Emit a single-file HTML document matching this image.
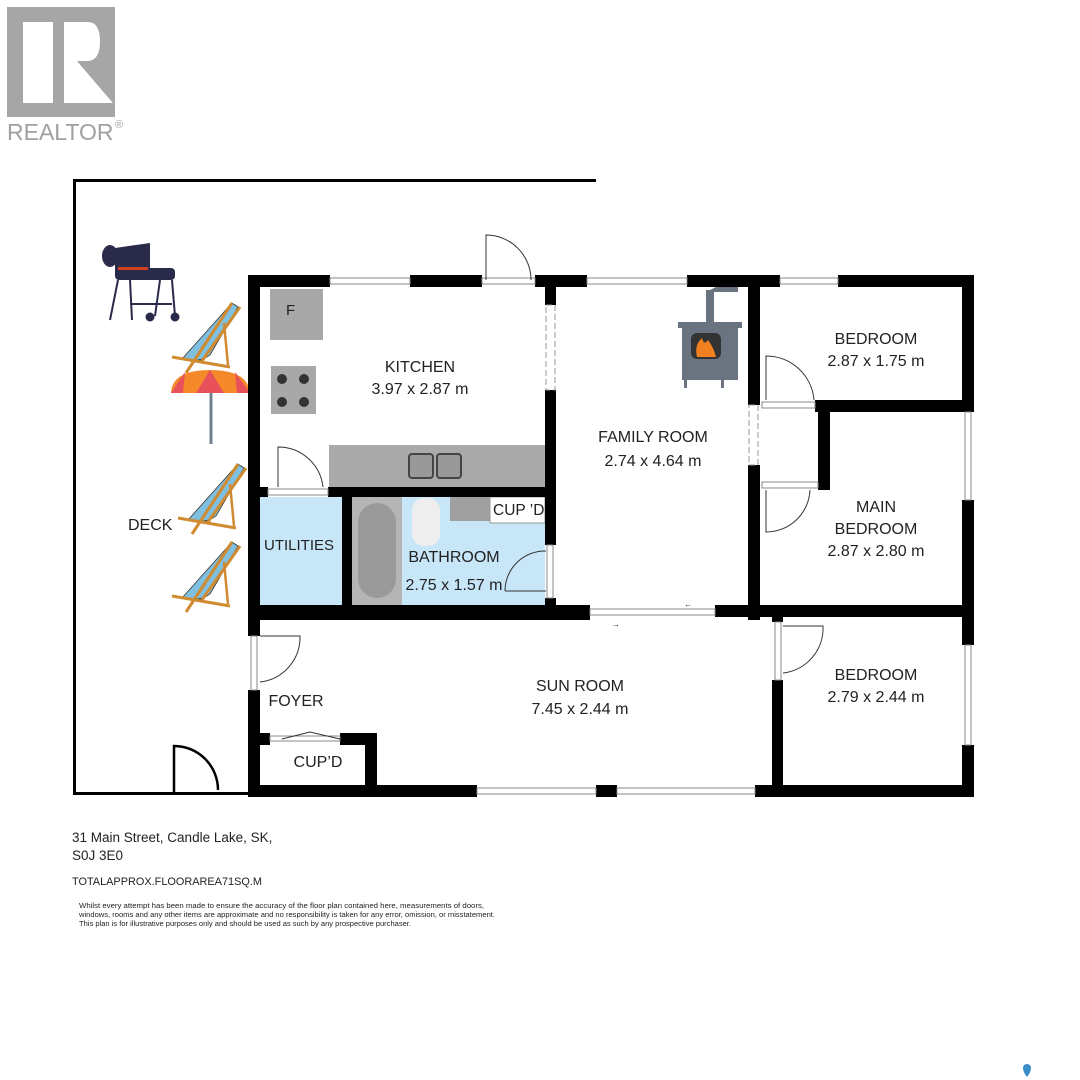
<!DOCTYPE html>
<html><head><meta charset="utf-8"><style>
html,body{margin:0;padding:0;background:#fff}
svg{display:block}
text{font-family:"Liberation Sans",sans-serif;fill:#222}
</style></head><body>
<svg width="1080" height="1080" viewBox="0 0 1080 1080" xmlns="http://www.w3.org/2000/svg">
<defs>
<g id="chair">
<path d="M2 12 Q20 18 30 15 L64 -40" stroke="#333" stroke-width="1" fill="#fff"/>
<path d="M10 14 Q28 18 38 10 L66 -38 L60 -42 Z" fill="#7fc0e0" stroke="#333" stroke-width="0.8"/>
<line x1="0" y1="12" x2="58" y2="22" stroke="#d08a30" stroke-width="3"/>
<line x1="14" y1="28" x2="60" y2="-42" stroke="#d08a30" stroke-width="3"/>
<line x1="30" y1="16" x2="68" y2="-38" stroke="#d08a30" stroke-width="3"/>
<line x1="52" y1="-22" x2="56" y2="20" stroke="#d08a30" stroke-width="2.5"/>
</g>
</defs>
<!-- logo -->
<rect x="7" y="7" width="108" height="110" fill="#a6a6a6"/>
<rect x="23" y="22" width="30" height="81" fill="#fff"/>
<path d="M64 22 L88 22 Q100 22 100 42 Q100 60 88 61 L77 61 L113 103 L64 103 Z" fill="#fff"/>
<path d="M77 61 L113 103 L113 92 Z" fill="#a6a6a6"/>
<text x="7" y="140" font-size="23" style="fill:#a0a0a0">REALTOR</text>
<text x="115" y="128" font-size="11" style="fill:#a0a0a0">®</text>

<!-- deck -->
<path d="M596 180.5 L74.5 180.5 L74.5 793.5 L248 793.5" fill="none" stroke="#000" stroke-width="3"/>
<path d="M174 793 L174 746 A44 44 0 0 1 218 790" fill="none" stroke="#000" stroke-width="2.5"/>
<text x="128" y="530" font-size="16">DECK</text>

<!-- grill -->
<g>
<path d="M115 248 L150 243 L150 270 L115 272 Z" fill="#2a2a4a"/>
<ellipse cx="110" cy="256" rx="8" ry="11" fill="#2a2a4a"/>
<rect x="115" y="268" width="60" height="12" rx="4" fill="#2a2a4a"/>
<rect x="118" y="267" width="30" height="3" fill="#d04020"/>
<line x1="118" y1="280" x2="110" y2="320" stroke="#2a2a4a" stroke-width="2"/>
<line x1="130" y1="280" x2="132" y2="320" stroke="#2a2a4a" stroke-width="2"/>
<line x1="160" y1="280" x2="155" y2="316" stroke="#2a2a4a" stroke-width="2"/>
<line x1="172" y1="280" x2="175" y2="316" stroke="#2a2a4a" stroke-width="2"/>
<line x1="130" y1="304" x2="172" y2="304" stroke="#2a2a4a" stroke-width="2"/>
<circle cx="150" cy="317" r="4.5" fill="#2a2a4a"/><circle cx="175" cy="317" r="4.5" fill="#2a2a4a"/>
</g>
<use href="#chair" x="172" y="345"/>
<use href="#chair" x="178" y="506"/>
<use href="#chair" x="172" y="584"/>
<!-- umbrella -->
<path d="M171 393 Q172 370 210 370 Q248 370 250 393 Z" fill="#f5892a"/>
<path d="M196 393 L210 370 L224 393 Z" fill="#e8505a"/>
<path d="M171 393 L185 372 L183 393 Z" fill="#e8505a"/>
<path d="M237 393 L235 372 L250 393 Z" fill="#e8505a"/>
<line x1="211" y1="393" x2="211" y2="444" stroke="#708090" stroke-width="3"/>

<!-- room fills -->
<rect x="260" y="497" width="82" height="108" fill="#c7e6f8"/>
<rect x="352" y="497" width="193" height="108" fill="#c7e6f8"/>
<!-- kitchen fixtures -->
<rect x="270" y="289" width="53" height="51" fill="#a8a8a8"/>
<text x="286" y="315" font-size="15">F</text>
<rect x="271" y="366" width="45" height="48" fill="#a8a8a8"/>
<g fill="#333"><circle cx="282" cy="379" r="5"/><circle cx="304" cy="379" r="5"/><circle cx="282" cy="402" r="5"/><circle cx="304" cy="402" r="5"/></g>
<rect x="329" y="445" width="216" height="42" fill="#aaa"/>
<rect x="409" y="454" width="24" height="24" rx="3" fill="#999" stroke="#444" stroke-width="2"/>
<rect x="437" y="454" width="24" height="24" rx="3" fill="#999" stroke="#444" stroke-width="2"/>
<!-- bathroom -->
<rect x="352" y="497" width="50" height="110" fill="#b5b5b5"/>
<rect x="358" y="503" width="38" height="95" rx="19" fill="#9a9a9a"/>
<rect x="412" y="498" width="28" height="48" rx="12" fill="#eee"/>
<rect x="450" y="497" width="40" height="24" fill="#a0a0a0"/>
<rect x="490" y="497" width="55" height="26" fill="#fff" stroke="#999" stroke-width="1"/>
<text x="493" y="515" font-size="15.5">CUP ’D</text>
<path d="M505 591 A40 40 0 0 1 546 551" fill="none" stroke="#333" stroke-width="1"/>
<line x1="505" y1="591" x2="546" y2="591" stroke="#333"/>
<!-- stove -->
<rect x="706" y="290" width="8" height="35" fill="#6a7480"/>
<path d="M706 292 L720 285 L738 285 L738 292 L714 292 Z" fill="#6a7480"/>
<rect x="678" y="322" width="64" height="6" fill="#6a7480"/>
<rect x="682" y="328" width="56" height="52" fill="#6a7480"/>
<rect x="691" y="333" width="30" height="26" rx="6" fill="#333"/>
<path d="M697 357 Q694 345 702 338 Q704 346 708 340 Q714 348 716 357 Z" fill="#f08020"/>
<rect x="684" y="380" width="3" height="8" fill="#6a7480"/><rect x="721" y="380" width="3" height="8" fill="#6a7480"/>

<!-- walls -->
<g fill="#000">
<rect x="248" y="275" width="82" height="12"/>
<rect x="410" y="275" width="72" height="12"/>
<rect x="535" y="275" width="52" height="12"/>
<rect x="687" y="275" width="93" height="12"/>
<rect x="838" y="275" width="136" height="12"/>
<rect x="248" y="275" width="12" height="361"/>
<rect x="248" y="690" width="12" height="107"/>
<rect x="962" y="275" width="12" height="137"/>
<rect x="962" y="500" width="12" height="145"/>
<rect x="962" y="745" width="12" height="52"/>
<rect x="248" y="785" width="229" height="12"/>
<rect x="596" y="785" width="21" height="12"/>
<rect x="755" y="785" width="219" height="12"/>
<rect x="545" y="275" width="11" height="30"/>
<rect x="545" y="390" width="11" height="155"/>
<rect x="545" y="598" width="11" height="15"/>
<rect x="260" y="487" width="8" height="10"/>
<rect x="328" y="487" width="228" height="10"/>
<rect x="342" y="497" width="10" height="113"/>
<rect x="248" y="605" width="342" height="15"/>
<rect x="715" y="605" width="259" height="12"/>
<rect x="748" y="275" width="12" height="130"/>
<rect x="748" y="465" width="12" height="155"/>
<rect x="815" y="400" width="159" height="12"/>
<rect x="818" y="400" width="12" height="90"/>
<rect x="772" y="680" width="11" height="117"/>
<rect x="772" y="617" width="11" height="5"/>
<rect x="260" y="733" width="10" height="12"/>
<rect x="340" y="733" width="37" height="12"/>
<rect x="365" y="733" width="12" height="64"/>
</g>
<!-- windows -->
<g fill="#fff" stroke="#888" stroke-width="1">
<rect x="330" y="278" width="80" height="6"/>
<rect x="482" y="278" width="53" height="6"/>
<rect x="587" y="278" width="100" height="6"/>
<rect x="780" y="278" width="58" height="6"/>
<rect x="965" y="412" width="6" height="88"/>
<rect x="965" y="645" width="6" height="100"/>
<rect x="477" y="788" width="119" height="6"/>
<rect x="617" y="788" width="138" height="6"/>
<rect x="590" y="609" width="125" height="6"/>
<rect x="251" y="636" width="6" height="54"/>
<rect x="547" y="545" width="6" height="53"/>
<rect x="775" y="622" width="6" height="58"/>
<rect x="268" y="489" width="60" height="6"/>
<rect x="762" y="402" width="53" height="6"/>
<rect x="762" y="482" width="56" height="6"/>
<rect x="270" y="736" width="70" height="5"/>
</g>
<g fill="none" stroke="#999" stroke-width="1" stroke-dasharray="6 3">
<rect x="546" y="305" width="9" height="85"/>
<rect x="749" y="405" width="9" height="60"/>
</g>
<g fill="none" stroke="#333" stroke-width="1">
<path d="M486 280 L486 235 A45 45 0 0 1 531 280"/>
<path d="M278 487 L278 447 A45 45 0 0 1 323 487"/>
<path d="M766 400 L766 356 A48 48 0 0 1 814 400"/>
<path d="M766 490 L766 532 A44 44 0 0 0 810 490"/>
<path d="M260 636 L300 636 A45 45 0 0 1 260 682"/>
<path d="M783 626 L823 626 A45 45 0 0 1 783 673"/>
<path d="M282 739 L310 732 L340 739"/>
</g>
<text x="612" y="627" font-size="8">→</text>
<text x="684" y="607" font-size="8">←</text>

<g font-size="16" text-anchor="middle">
<text x="420" y="372">KITCHEN</text>
<text x="420" y="394">3.97 x 2.87 m</text>
<text x="299" y="550" font-size="15" textLength="70" lengthAdjust="spacingAndGlyphs">UTILITIES</text>
<text x="454" y="562">BATHROOM</text>
<text x="454" y="590">2.75 x 1.57 m</text>
<text x="653" y="442">FAMILY ROOM</text>
<text x="653" y="466">2.74 x 4.64 m</text>
<text x="876" y="344">BEDROOM</text>
<text x="876" y="366">2.87 x 1.75 m</text>
<text x="876" y="512">MAIN</text>
<text x="876" y="534">BEDROOM</text>
<text x="876" y="556">2.87 x 2.80 m</text>
<text x="876" y="680">BEDROOM</text>
<text x="876" y="702">2.79 x 2.44 m</text>
<text x="580" y="691">SUN ROOM</text>
<text x="580" y="714">7.45 x 2.44 m</text>
<text x="296" y="706">FOYER</text>
<text x="318" y="767">CUP’D</text>
</g>

<text x="72" y="842" font-size="13.5">31 Main Street, Candle Lake, SK,</text>
<text x="72" y="860" font-size="13.5">S0J 3E0</text>
<text x="72" y="885" font-size="11" textLength="190" lengthAdjust="spacingAndGlyphs">TOTALAPPROX.FLOORAREA71SQ.M</text>
<g font-size="7" style="fill:#555">
<text x="79" y="908" textLength="405" lengthAdjust="spacingAndGlyphs">Whilst every attempt has been made to ensure the accuracy of the floor plan contained here, measurements of doors,</text>
<text x="79" y="917" textLength="416" lengthAdjust="spacingAndGlyphs">windows, rooms and any other items are approximate and no responsibility is taken for any error, omission, or misstatement.</text>
<text x="79" y="926" textLength="332" lengthAdjust="spacingAndGlyphs">This plan is for illustrative purposes only and should be used as such by any prospective purchaser.</text>
</g>
<path d="M1023 1068 a4 4 0 1 1 8 0 q0 4 -4 9 q-4 -5 -4 -9z" fill="#3a8cc8"/>
</svg>
</body></html>
